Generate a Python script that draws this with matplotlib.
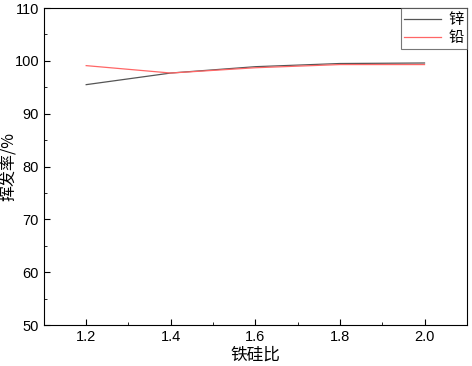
import matplotlib
matplotlib.use('Agg')
import matplotlib.pyplot as plt
from matplotlib.ticker import MultipleLocator

plt.rcParams['font.family'] = ['Liberation Sans', 'Noto Sans CJK SC', 'DejaVu Sans']

ratio = [1.2, 1.4, 1.6, 1.8, 2.0]
zinc = [95.5, 97.7, 98.9, 99.5, 99.6]
lead = [99.1, 97.7, 98.7, 99.3, 99.3]

fig = plt.figure(figsize=(4.72, 3.66), dpi=100)
ax = fig.add_axes([0.093, 0.112, 0.896, 0.866])

ax.plot(ratio, zinc, color='#555555', lw=0.9, label='锌')
ax.plot(ratio, lead, color='#ff6666', lw=0.9, label='铅')

ax.set_xlim(1.1, 2.1)
ax.set_ylim(50, 110)
ax.xaxis.set_major_locator(MultipleLocator(0.2))
ax.xaxis.set_minor_locator(MultipleLocator(0.1))
ax.yaxis.set_major_locator(MultipleLocator(10))
ax.yaxis.set_minor_locator(MultipleLocator(5))
ax.tick_params(which='both', direction='in', labelsize=10.5)
ax.tick_params(which='major', length=4)
ax.tick_params(which='minor', length=2.5)
ax.set_xticks([1.2, 1.4, 1.6, 1.8, 2.0])
ax.set_xticklabels(['1.2', '1.4', '1.6', '1.8', '2.0'])

ax.set_xlabel('铁硅比', fontsize=12, family=['Noto Sans CJK SC'], labelpad=2)
ax.set_ylabel('挥发率/%', fontsize=11.5, family=['Noto Sans CJK SC', 'DejaVu Sans'])
ax.yaxis.set_label_coords(-0.061, 0.5)

leg = ax.legend(loc='upper right', frameon=True, fancybox=False,
                borderaxespad=0, handlelength=2.4, borderpad=0.2, handletextpad=0.5,
                labelspacing=0.05, prop={'family': 'Noto Sans CJK SC', 'size': 11})
leg.get_frame().set_edgecolor('#555555')
leg.get_frame().set_linewidth(0.8)

fig.savefig('out.png', dpi=100)
